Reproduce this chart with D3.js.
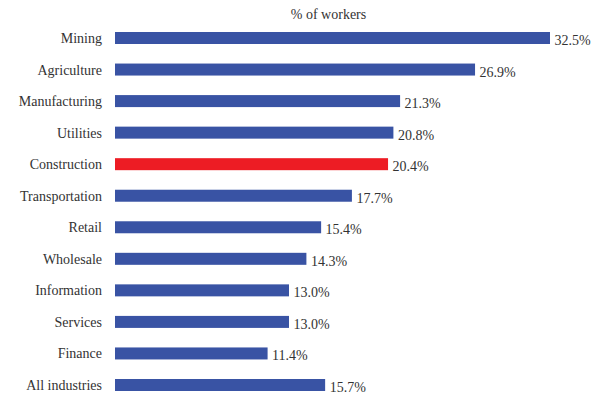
<!DOCTYPE html>
<html>
<head>
<meta charset="utf-8">
<script src="https://cdn.jsdelivr.net/npm/d3@7/dist/d3.min.js"></script>
<style>
  html, body { margin: 0; padding: 0; background: #fff; }
  svg { display: block; }
  svg text { font-family: 'Tinos', 'Times New Roman', 'Liberation Serif', serif; font-size: 14px; fill: #333; }
</style>
</head>
<body>
<svg id="chart" width="598" height="394"></svg>
<script>
const categories = ["Mining", "Agriculture", "Manufacturing", "Utilities", "Construction",
  "Transportation", "Retail", "Wholesale", "Information", "Services", "Finance", "All industries"];
const values = [32.5, 26.9, 21.3, 20.8, 20.4, 17.7, 15.4, 14.3, 13.0, 13.0, 11.4, 15.7];
const highlight = ["Construction"];
const title = "% of workers";

const FONT = "'Tinos', 'Times New Roman', 'Liberation Serif', serif";
const svg = d3.select("#chart");
const x = d3.scaleLinear().domain([0, 32.5]).range([115, 550]);
const y = d3.scalePoint().domain(categories).range([38, 385]);
const barH = 12;
const blue = "#3953a4", red = "#ed1c24";

const data = categories.map((c, i) => ({ c, v: values[i] }));

svg.append("text")
  .attr("x", 328.5).attr("y", 19)
  .attr("text-anchor", "middle")
  .style("font-family", FONT)
  .text(title);

svg.selectAll("rect.bar").data(data).join("rect")
  .attr("class", "bar")
  .attr("x", x(0))
  .attr("y", d => y(d.c) - barH / 2)
  .attr("width", d => x(d.v) - x(0))
  .attr("height", barH)
  .attr("fill", d => highlight.includes(d.c) ? red : blue);

svg.selectAll("text.cat").data(data).join("text")
  .attr("class", "cat")
  .attr("x", 102)
  .attr("y", d => y(d.c) + 5)
  .attr("text-anchor", "end")
  .style("font-family", FONT)
  .text(d => d.c);

svg.selectAll("text.val").data(data).join("text")
  .attr("class", "val")
  .attr("x", d => x(d.v) + 4.5)
  .attr("y", d => y(d.c) + 7)
  .style("font-family", FONT)
  .text(d => d.v.toFixed(1) + "%");
</script>
</body>
</html>
